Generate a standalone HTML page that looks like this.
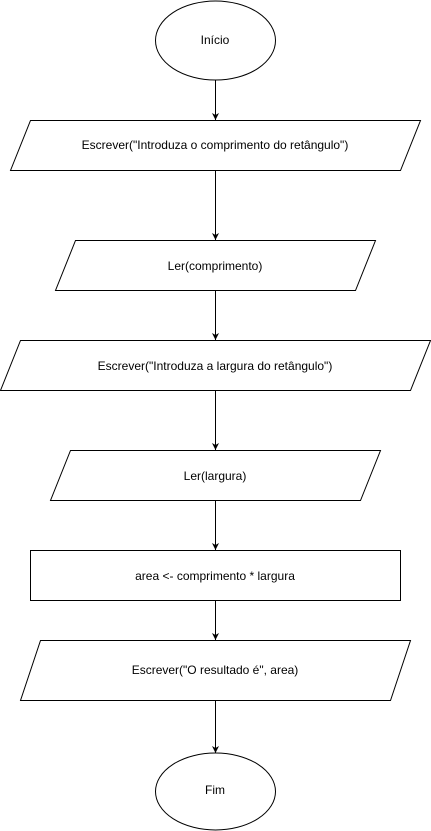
<!DOCTYPE html>
<html><head><meta charset="utf-8"><style>
html,body{margin:0;padding:0;background:#fff;width:431px;height:831px;overflow:hidden}
svg{display:block}
text{font-family:"Liberation Sans",Arial,sans-serif;font-size:12px;fill:#000;text-anchor:middle;dominant-baseline:central}
</style></head><body>
<svg width="431" height="831" viewBox="0 0 431 831" xmlns="http://www.w3.org/2000/svg">
<defs><marker id="a" markerWidth="8" markerHeight="8" refX="7" refY="4" orient="auto" markerUnits="userSpaceOnUse"><path d="M0,0.5 L7,4 L0,7.5 L2,4 Z" fill="#000"/></marker></defs>
<g fill="#fff" stroke="#000" stroke-width="1">
<ellipse cx="215.5" cy="40.5" rx="60" ry="39.5"/>
<polygon points="30.5,120.5 420.5,120.5 400.5,170.5 10.5,170.5"/>
<polygon points="75.5,240.5 375.5,240.5 355.5,290.5 55.5,290.5"/>
<polygon points="20.5,340.5 430.5,340.5 410.5,390.5 0.5,390.5"/>
<polygon points="70.5,450.5 380.5,450.5 360.5,500.5 50.5,500.5"/>
<rect x="30.5" y="550.5" width="370" height="50"/>
<polygon points="40.5,640.5 410.5,640.5 390.5,700.5 20.5,700.5"/>
<ellipse cx="215.5" cy="791.5" rx="60" ry="38.5"/>
</g>
<g stroke="#000" stroke-width="1" marker-end="url(#a)">
<line x1="215.5" y1="80" x2="215.5" y2="120"/>
<line x1="215.5" y1="171" x2="215.5" y2="240"/>
<line x1="215.5" y1="291" x2="215.5" y2="340"/>
<line x1="215.5" y1="391" x2="215.5" y2="450"/>
<line x1="215.5" y1="501" x2="215.5" y2="550"/>
<line x1="215.5" y1="601" x2="215.5" y2="640"/>
<line x1="215.5" y1="701" x2="215.5" y2="753"/>
</g>
<text x="215" y="40">Início</text>
<text x="215" y="145">Escrever("Introduza o comprimento do retângulo")</text>
<text x="215" y="266">Ler(comprimento)</text>
<text x="215" y="366">Escrever("Introduza a largura do retângulo")</text>
<text x="215" y="476">Ler(largura)</text>
<text x="215" y="576">area &lt;- comprimento * largura</text>
<text x="215" y="670">Escrever("O resultado é", area)</text>
<text x="215" y="790">Fim</text>
</svg>
</body></html>
